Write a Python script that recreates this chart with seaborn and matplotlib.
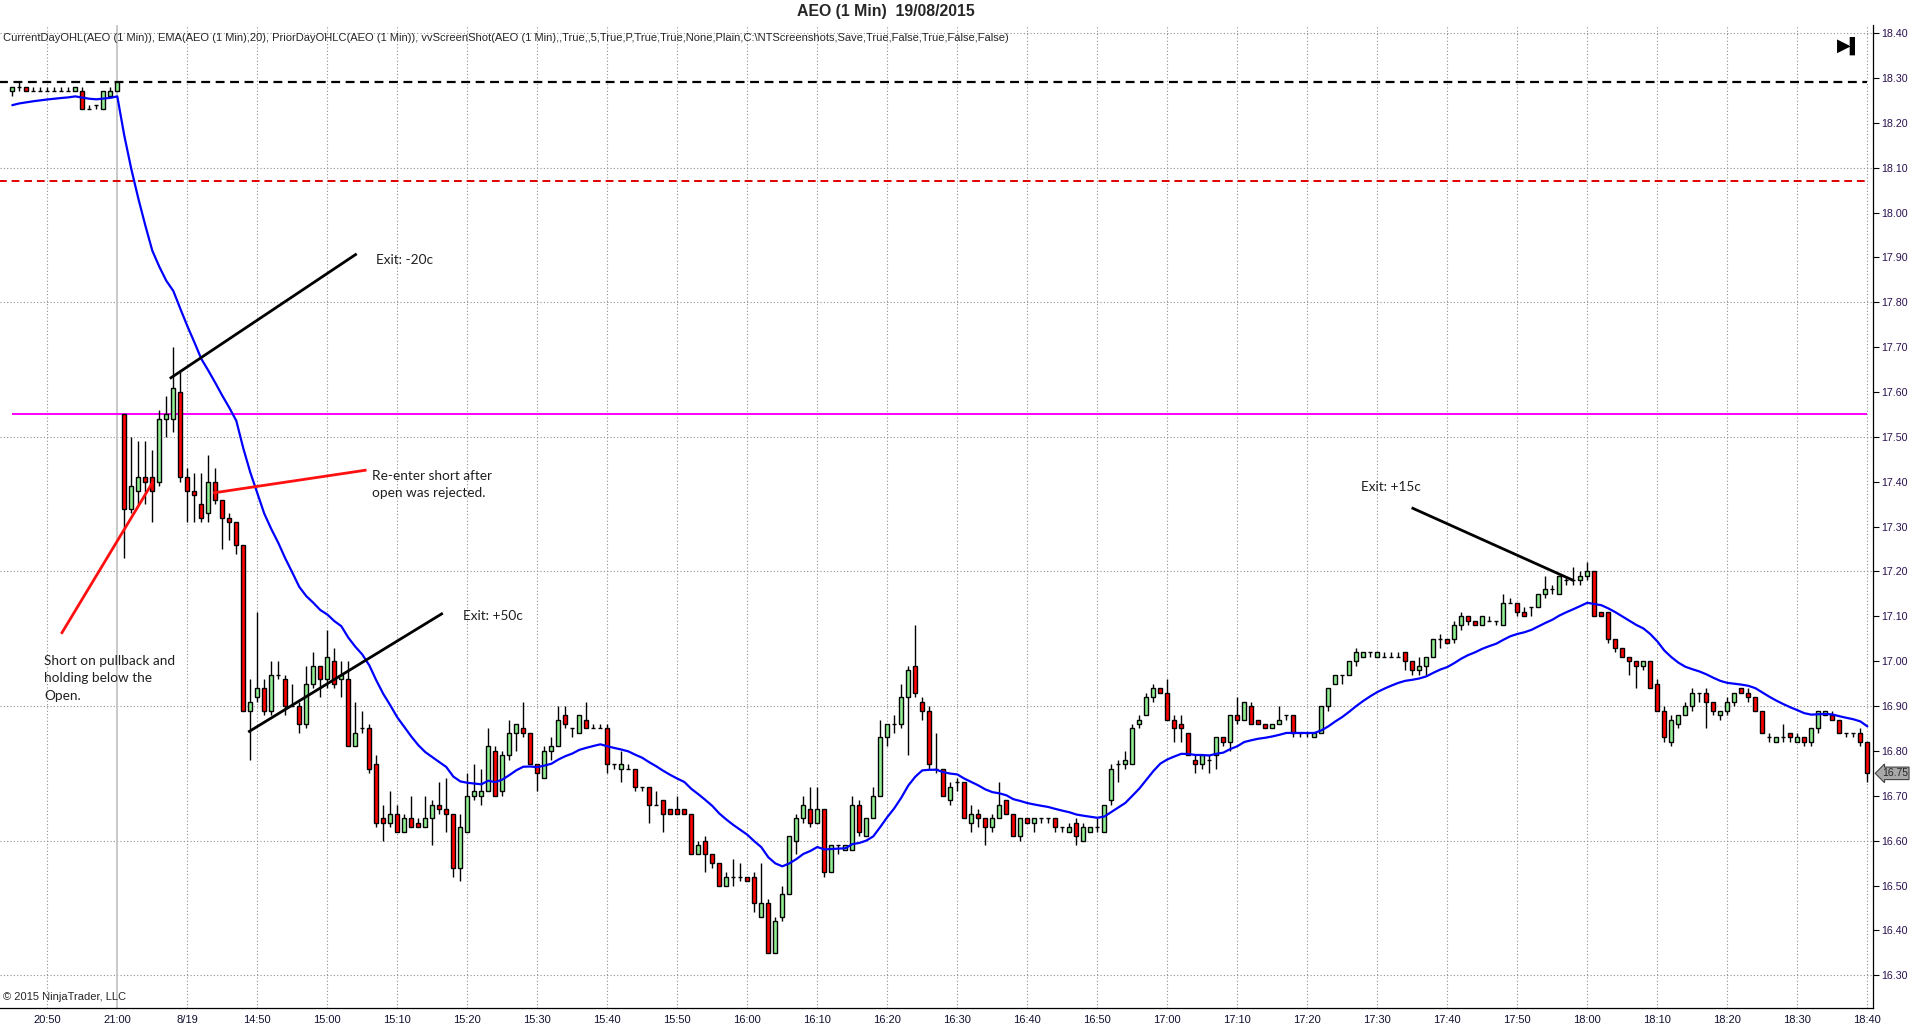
import numpy as np
import pandas as pd
import matplotlib
matplotlib.use("Agg")
import matplotlib.pyplot as plt
import matplotlib.transforms as mtransforms
import seaborn as sns

# ---- data (one value per 1-minute bar) ----
opens = [
    18.27, 18.28, 18.28, 18.27, 18.27, 18.27, 18.27, 18.27, 18.27, 18.27,
    18.27, 18.23, 18.24, 18.23, 18.26, 18.27, 17.55, 17.34, 17.38, 17.41,
    17.41, 17.40, 17.54, 17.54, 17.60, 17.41, 17.38, 17.35, 17.33, 17.40,
    17.36, 17.32, 17.31, 17.26, 16.89, 16.92, 16.94, 16.89, 16.97, 16.96,
    16.90, 16.90, 16.86, 16.95, 16.99, 16.96, 17.00, 16.96, 16.96, 16.81,
    16.85, 16.85, 16.77, 16.65, 16.64, 16.66, 16.62, 16.65, 16.64, 16.63,
    16.65, 16.68, 16.67, 16.66, 16.54, 16.62, 16.70, 16.70, 16.71, 16.80,
    16.71, 16.79, 16.84, 16.85, 16.84, 16.77, 16.74, 16.80, 16.81, 16.88,
    16.85, 16.84, 16.87, 16.85, 16.85, 16.85, 16.77, 16.76, 16.76, 16.76,
    16.72, 16.72, 16.68, 16.69, 16.67, 16.67, 16.67, 16.66, 16.57, 16.60,
    16.57, 16.55, 16.50, 16.52, 16.52, 16.52, 16.52, 16.43, 16.46, 16.35,
    16.43, 16.48, 16.60, 16.65, 16.67, 16.64, 16.67, 16.53, 16.59, 16.58,
    16.58, 16.68, 16.61, 16.65, 16.70, 16.83, 16.86, 16.86, 16.92, 16.99,
    16.91, 16.89, 16.76, 16.76, 16.69, 16.73, 16.73, 16.64, 16.66, 16.65,
    16.63, 16.65, 16.69, 16.66, 16.61, 16.65, 16.64, 16.65, 16.65, 16.65,
    16.63, 16.62, 16.64, 16.60, 16.62, 16.63, 16.62, 16.69, 16.77, 16.77,
    16.77, 16.86, 16.88, 16.92, 16.94, 16.93, 16.87, 16.86, 16.84, 16.78,
    16.77, 16.78, 16.79, 16.83, 16.82, 16.88, 16.87, 16.90, 16.87, 16.86,
    16.85, 16.86, 16.88, 16.88, 16.84, 16.84, 16.83, 16.84, 16.90, 16.95,
    16.97, 16.97, 17.00, 17.01, 17.02, 17.01, 17.01, 17.01, 17.01, 17.02,
    17.00, 16.98, 16.99, 17.01, 17.05, 17.05, 17.05, 17.08, 17.10, 17.09,
    17.08, 17.09, 17.09, 17.08, 17.13, 17.13, 17.11, 17.12, 17.12, 17.15,
    17.16, 17.15, 17.18, 17.18, 17.18, 17.19, 17.20, 17.11, 17.11, 17.05,
    17.03, 17.01, 17.00, 16.99, 17.00, 16.95, 16.89, 16.82, 16.86, 16.88,
    16.90, 16.93, 16.93, 16.91, 16.88, 16.89, 16.91, 16.94, 16.93, 16.92,
    16.89, 16.83, 16.82, 16.83, 16.84, 16.82, 16.83, 16.82, 16.85, 16.88,
    16.88, 16.87, 16.84, 16.84, 16.84, 16.82,
]
highs = [
    18.28, 18.29, 18.28, 18.28, 18.28, 18.28, 18.28, 18.28, 18.28, 18.28,
    18.28, 18.24, 18.24, 18.27, 18.28, 18.29, 17.55, 17.50, 17.49, 17.49,
    17.47, 17.56, 17.59, 17.70, 17.65, 17.43, 17.42, 17.42, 17.46, 17.43,
    17.36, 17.33, 17.31, 17.26, 16.96, 17.11, 16.96, 17.00, 17.00, 16.97,
    16.95, 16.91, 16.99, 17.02, 16.99, 17.07, 17.03, 17.00, 17.00, 16.91,
    16.89, 16.86, 16.79, 16.68, 16.71, 16.68, 16.66, 16.70, 16.65, 16.70,
    16.69, 16.73, 16.74, 16.66, 16.66, 16.75, 16.77, 16.76, 16.85, 16.81,
    16.80, 16.87, 16.86, 16.91, 16.84, 16.77, 16.81, 16.83, 16.90, 16.90,
    16.85, 16.88, 16.91, 16.86, 16.86, 16.86, 16.77, 16.80, 16.77, 16.76,
    16.72, 16.72, 16.71, 16.69, 16.67, 16.70, 16.67, 16.66, 16.60, 16.61,
    16.57, 16.55, 16.53, 16.56, 16.55, 16.52, 16.53, 16.55, 16.47, 16.43,
    16.50, 16.61, 16.66, 16.70, 16.72, 16.72, 16.67, 16.59, 16.59, 16.59,
    16.70, 16.69, 16.65, 16.72, 16.87, 16.86, 16.88, 16.95, 16.99, 17.08,
    16.92, 16.90, 16.84, 16.76, 16.73, 16.74, 16.73, 16.68, 16.67, 16.65,
    16.66, 16.73, 16.69, 16.66, 16.65, 16.65, 16.65, 16.65, 16.65, 16.65,
    16.63, 16.64, 16.65, 16.64, 16.63, 16.65, 16.68, 16.77, 16.78, 16.80,
    16.86, 16.88, 16.93, 16.95, 16.94, 16.96, 16.88, 16.88, 16.84, 16.79,
    16.79, 16.79, 16.83, 16.83, 16.88, 16.92, 16.91, 16.91, 16.87, 16.86,
    16.86, 16.90, 16.88, 16.88, 16.84, 16.84, 16.84, 16.90, 16.94, 16.97,
    16.97, 17.00, 17.03, 17.02, 17.02, 17.02, 17.02, 17.02, 17.02, 17.02,
    17.00, 17.01, 17.01, 17.05, 17.06, 17.05, 17.09, 17.11, 17.10, 17.09,
    17.10, 17.10, 17.09, 17.15, 17.14, 17.13, 17.12, 17.12, 17.15, 17.19,
    17.17, 17.19, 17.19, 17.21, 17.20, 17.22, 17.20, 17.11, 17.11, 17.05,
    17.03, 17.01, 17.00, 17.00, 17.00, 16.96, 16.90, 16.88, 16.88, 16.91,
    16.94, 16.93, 16.94, 16.91, 16.89, 16.92, 16.93, 16.94, 16.94, 16.92,
    16.89, 16.84, 16.83, 16.86, 16.84, 16.84, 16.83, 16.85, 16.89, 16.89,
    16.89, 16.87, 16.84, 16.84, 16.85, 16.82,
]
lows = [
    18.26, 18.27, 18.27, 18.27, 18.27, 18.27, 18.27, 18.27, 18.27, 18.27,
    18.23, 18.23, 18.23, 18.23, 18.26, 18.27, 17.23, 17.33, 17.35, 17.35,
    17.31, 17.39, 17.50, 17.51, 17.40, 17.31, 17.31, 17.31, 17.31, 17.35,
    17.25, 17.27, 17.24, 16.89, 16.78, 16.91, 16.88, 16.88, 16.96, 16.88,
    16.90, 16.84, 16.85, 16.94, 16.92, 16.94, 16.94, 16.92, 16.81, 16.81,
    16.84, 16.75, 16.63, 16.60, 16.63, 16.62, 16.62, 16.63, 16.63, 16.63,
    16.59, 16.66, 16.62, 16.52, 16.51, 16.62, 16.69, 16.68, 16.71, 16.70,
    16.70, 16.78, 16.80, 16.83, 16.77, 16.71, 16.74, 16.78, 16.81, 16.85,
    16.83, 16.84, 16.85, 16.85, 16.85, 16.75, 16.76, 16.73, 16.76, 16.71,
    16.71, 16.64, 16.68, 16.62, 16.66, 16.66, 16.66, 16.57, 16.57, 16.53,
    16.54, 16.50, 16.50, 16.50, 16.51, 16.51, 16.44, 16.43, 16.35, 16.35,
    16.42, 16.48, 16.57, 16.64, 16.63, 16.64, 16.52, 16.53, 16.57, 16.58,
    16.58, 16.61, 16.61, 16.65, 16.70, 16.81, 16.84, 16.85, 16.79, 16.92,
    16.87, 16.76, 16.75, 16.70, 16.68, 16.71, 16.65, 16.62, 16.63, 16.59,
    16.62, 16.65, 16.66, 16.61, 16.60, 16.64, 16.62, 16.64, 16.64, 16.62,
    16.62, 16.62, 16.59, 16.60, 16.62, 16.62, 16.62, 16.68, 16.73, 16.76,
    16.77, 16.85, 16.88, 16.91, 16.93, 16.87, 16.82, 16.82, 16.79, 16.75,
    16.76, 16.75, 16.76, 16.81, 16.80, 16.86, 16.87, 16.86, 16.86, 16.85,
    16.85, 16.86, 16.87, 16.83, 16.83, 16.83, 16.83, 16.84, 16.89, 16.95,
    16.95, 16.97, 16.99, 17.01, 17.01, 17.01, 17.01, 17.01, 17.01, 16.98,
    16.97, 16.97, 16.97, 17.01, 17.03, 17.04, 17.04, 17.07, 17.08, 17.08,
    17.08, 17.09, 17.08, 17.08, 17.13, 17.10, 17.10, 17.10, 17.12, 17.14,
    17.15, 17.15, 17.17, 17.17, 17.17, 17.18, 17.10, 17.10, 17.04, 17.02,
    17.01, 16.97, 16.94, 16.98, 16.94, 16.89, 16.82, 16.81, 16.85, 16.88,
    16.89, 16.91, 16.85, 16.88, 16.87, 16.88, 16.90, 16.93, 16.91, 16.89,
    16.84, 16.82, 16.82, 16.82, 16.82, 16.82, 16.81, 16.81, 16.84, 16.88,
    16.87, 16.84, 16.83, 16.83, 16.81, 16.73,
]
closes = [
    18.28, 18.28, 18.27, 18.27, 18.27, 18.27, 18.27, 18.27, 18.27, 18.28,
    18.23, 18.23, 18.24, 18.27, 18.27, 18.29, 17.34, 17.39, 17.41, 17.40,
    17.38, 17.54, 17.55, 17.61, 17.41, 17.38, 17.37, 17.32, 17.40, 17.36,
    17.32, 17.31, 17.26, 16.89, 16.91, 16.94, 16.89, 16.97, 16.97, 16.90,
    16.90, 16.86, 16.95, 16.99, 16.96, 17.01, 16.95, 16.97, 16.81, 16.84,
    16.85, 16.76, 16.64, 16.64, 16.66, 16.62, 16.65, 16.63, 16.63, 16.65,
    16.68, 16.67, 16.66, 16.54, 16.63, 16.70, 16.71, 16.71, 16.81, 16.70,
    16.79, 16.84, 16.86, 16.84, 16.77, 16.75, 16.80, 16.81, 16.87, 16.86,
    16.85, 16.88, 16.85, 16.85, 16.85, 16.77, 16.77, 16.77, 16.76, 16.72,
    16.72, 16.68, 16.68, 16.66, 16.66, 16.66, 16.66, 16.57, 16.59, 16.57,
    16.55, 16.50, 16.52, 16.52, 16.52, 16.51, 16.46, 16.46, 16.35, 16.42,
    16.48, 16.61, 16.65, 16.68, 16.64, 16.67, 16.53, 16.59, 16.59, 16.59,
    16.68, 16.62, 16.65, 16.70, 16.83, 16.86, 16.86, 16.92, 16.98, 16.93,
    16.89, 16.77, 16.76, 16.70, 16.72, 16.73, 16.65, 16.66, 16.65, 16.63,
    16.65, 16.68, 16.66, 16.61, 16.65, 16.64, 16.65, 16.65, 16.65, 16.63,
    16.63, 16.63, 16.61, 16.63, 16.63, 16.63, 16.68, 16.76, 16.77, 16.78,
    16.85, 16.87, 16.92, 16.94, 16.93, 16.87, 16.85, 16.85, 16.79, 16.77,
    16.79, 16.78, 16.83, 16.82, 16.88, 16.87, 16.91, 16.86, 16.86, 16.85,
    16.86, 16.87, 16.88, 16.84, 16.84, 16.84, 16.84, 16.90, 16.94, 16.97,
    16.97, 17.00, 17.02, 17.02, 17.02, 17.02, 17.01, 17.01, 17.01, 17.00,
    16.98, 16.99, 17.01, 17.05, 17.05, 17.04, 17.08, 17.10, 17.09, 17.08,
    17.10, 17.09, 17.09, 17.13, 17.13, 17.11, 17.10, 17.12, 17.15, 17.16,
    17.16, 17.19, 17.18, 17.18, 17.19, 17.20, 17.10, 17.10, 17.05, 17.03,
    17.01, 17.00, 16.99, 17.00, 16.94, 16.89, 16.83, 16.87, 16.88, 16.90,
    16.93, 16.93, 16.91, 16.89, 16.89, 16.91, 16.93, 16.93, 16.92, 16.89,
    16.84, 16.83, 16.83, 16.83, 16.83, 16.83, 16.82, 16.85, 16.89, 16.89,
    16.87, 16.84, 16.84, 16.84, 16.82, 16.75,
]

ema_seed = 18.235          # EMA value carried in from earlier bars
ema_period = 20

tick_bars = list(range(5, 266, 10))
tick_labels = ["20:50", "21:00", "8/19", "14:50", "15:00", "15:10", "15:20", "15:30",
               "15:40", "15:50", "16:00", "16:10", "16:20", "16:30", "16:40", "16:50",
               "17:00", "17:10", "17:20", "17:30", "17:40", "17:50", "18:00", "18:10",
               "18:20", "18:30", "18:40"]

prior_close = 18.29
prior_level = 18.07
day_open = 17.55
last_price = 16.75

# hand-drawn trade lines: (x0, y0, x1, y1)
black_lines = [(22.5, 17.63, 49.2, 17.908),
               (33.7, 16.842, 61.5, 17.107),
               (199.9, 17.342, 223.0, 17.18)]
red_lines = [(28.7, 17.375, 50.6, 17.426),
             (7.0, 17.061, 20.1, 17.40)]
notes = [(52.0, 17.894, "Exit: -20c"),
         (51.4, 17.394, "Re-enter short after\nopen was rejected."),
         (64.4, 17.10, "Exit: +50c"),
         (4.6, 16.962, "Short on pullback and\nholding below the\nOpen."),
         (192.7, 17.388, "Exit: +15c")]

# ---- build frame ----
df = pd.DataFrame({"open": opens, "high": highs, "low": lows, "close": closes})
df["bar"] = np.arange(len(df))
df["ema"] = pd.Series([ema_seed] + closes).ewm(span=ema_period, adjust=False).mean().iloc[1:].values

sns.set_style("white")
plt.rcParams["font.family"] = ["Liberation Sans", "DejaVu Sans"]

fig = plt.figure(figsize=(19.2, 10.34), dpi=100)
ax = fig.add_axes([0.0, 0.02515, 0.9757, 0.95068])

# grid
for g in np.arange(16.30, 18.41, 0.30):
    ax.axhline(g, color="#909090", lw=0.8, ls=(0, (1, 2)), zorder=0)
for t in tick_bars:
    if t == 15:
        ax.axvline(t, color="#c0c0c0", lw=1.2, zorder=0)
    else:
        ax.axvline(t, color="#909090", lw=0.8, ls=(0, (1, 2)), zorder=0)

# level lines
ax.hlines(prior_close, -2, 265, color="black", lw=1.6, ls=(0, (4, 2.5)), zorder=1)
ax.hlines(prior_level, -2, 265, color="#e00000", lw=1.4, ls=(0, (4, 2.5)), zorder=1)
ax.hlines(day_open, 0, 265, color="#ff00ff", lw=1.4, zorder=1)

# candles
up = df[df["close"] > df["open"]]
dn = df[df["close"] < df["open"]]
flat = df[df["close"] == df["open"]]
w = 0.58
ax.vlines(df["bar"], df["low"], df["high"], color="black", lw=1.0, zorder=2)
ax.bar(up["bar"], up["close"] - up["open"], bottom=up["open"], width=w,
       color="#90ee90", edgecolor="black", linewidth=1.0, zorder=3)
ax.bar(dn["bar"], dn["open"] - dn["close"], bottom=dn["close"], width=w,
       color="#ff0000", edgecolor="black", linewidth=1.0, zorder=3)
ax.hlines(flat["open"], flat["bar"] - w / 2, flat["bar"] + w / 2, color="black", lw=1.0, zorder=3)

# EMA
sns.lineplot(data=df, x="bar", y="ema", color="#0000ff", lw=1.6, ax=ax, zorder=4)

# drawings
for x0, y0, x1, y1 in black_lines:
    ax.plot([x0, x1], [y0, y1], color="black", lw=2.0, zorder=5, solid_capstyle="butt")
for x0, y0, x1, y1 in red_lines:
    ax.plot([x0, x1], [y0, y1], color="#ff1010", lw=2.0, zorder=5, solid_capstyle="butt")
for x, y, s in notes:
    ax.text(x, y, s, ha="left", va="center", fontsize=9.8, family=["Lato", "DejaVu Sans"],
            color="#202020", linespacing=1.55, zorder=6)

# axes cosmetics
ax.set_xlim(-1.757, 265.86)
ax.set_ylim(16.227, 18.418)
ax.set_xticks(tick_bars)
ax.set_xticklabels(tick_labels)
ax.set_yticks(np.round(np.arange(16.30, 18.41, 0.10), 2))
ax.set_yticklabels([f"{v:.2f}" for v in np.arange(16.30, 18.41, 0.10)])
ax.yaxis.tick_right()
ax.tick_params(axis="both", colors="black", direction="out")
ax.tick_params(axis="y", length=4.5, width=0.8, pad=1.2, labelsize=7.7, labelcolor="#2a1050")
ax.tick_params(axis="x", length=3.5, width=0.8, pad=1.5, labelsize=8, labelcolor="#101030")
ax.set_xlabel("")
ax.set_ylabel("")
for side in ["top", "left"]:
    ax.spines[side].set_visible(False)
for side in ["right", "bottom"]:
    ax.spines[side].set_color("black")
    ax.spines[side].set_linewidth(0.9)

# last-price marker on the price axis
trans = mtransforms.blended_transform_factory(ax.transAxes, ax.transData)
ax.text(1.0045, last_price, f"{last_price:.2f}", transform=trans, ha="left", va="center",
        fontsize=7.5, bbox=dict(boxstyle="larrow,pad=0.12", fc="#a8a8a8", ec="#404040", lw=0.8),
        clip_on=False, zorder=7)

# header texts
fig.text(0.4615, 0.989, "AEO (1 Min)  19/08/2015", ha="center", va="center",
         fontsize=11.4, fontweight="bold")
fig.text(0.0016, 0.963,
         "CurrentDayOHL(AEO (1 Min)), EMA(AEO (1 Min),20), PriorDayOHLC(AEO (1 Min)), "
         "vvScreenShot(AEO (1 Min),,True,,5,True,P,True,True,None,Plain,C:\\NTScreenshots,"
         "Save,True,False,True,False,False)",
         ha="left", va="center", fontsize=8)
ax.text(0.0015, 0.0065, "\u00a9 2015 NinjaTrader, LLC", transform=ax.transAxes, ha="left",
        va="bottom", fontsize=8)
ax.text(0.9955, 0.979, "\u25b6\u258d", transform=ax.transAxes, ha="right", va="center",
        fontsize=13, family="DejaVu Sans", color="black")

fig.savefig("out.png", dpi=100)
